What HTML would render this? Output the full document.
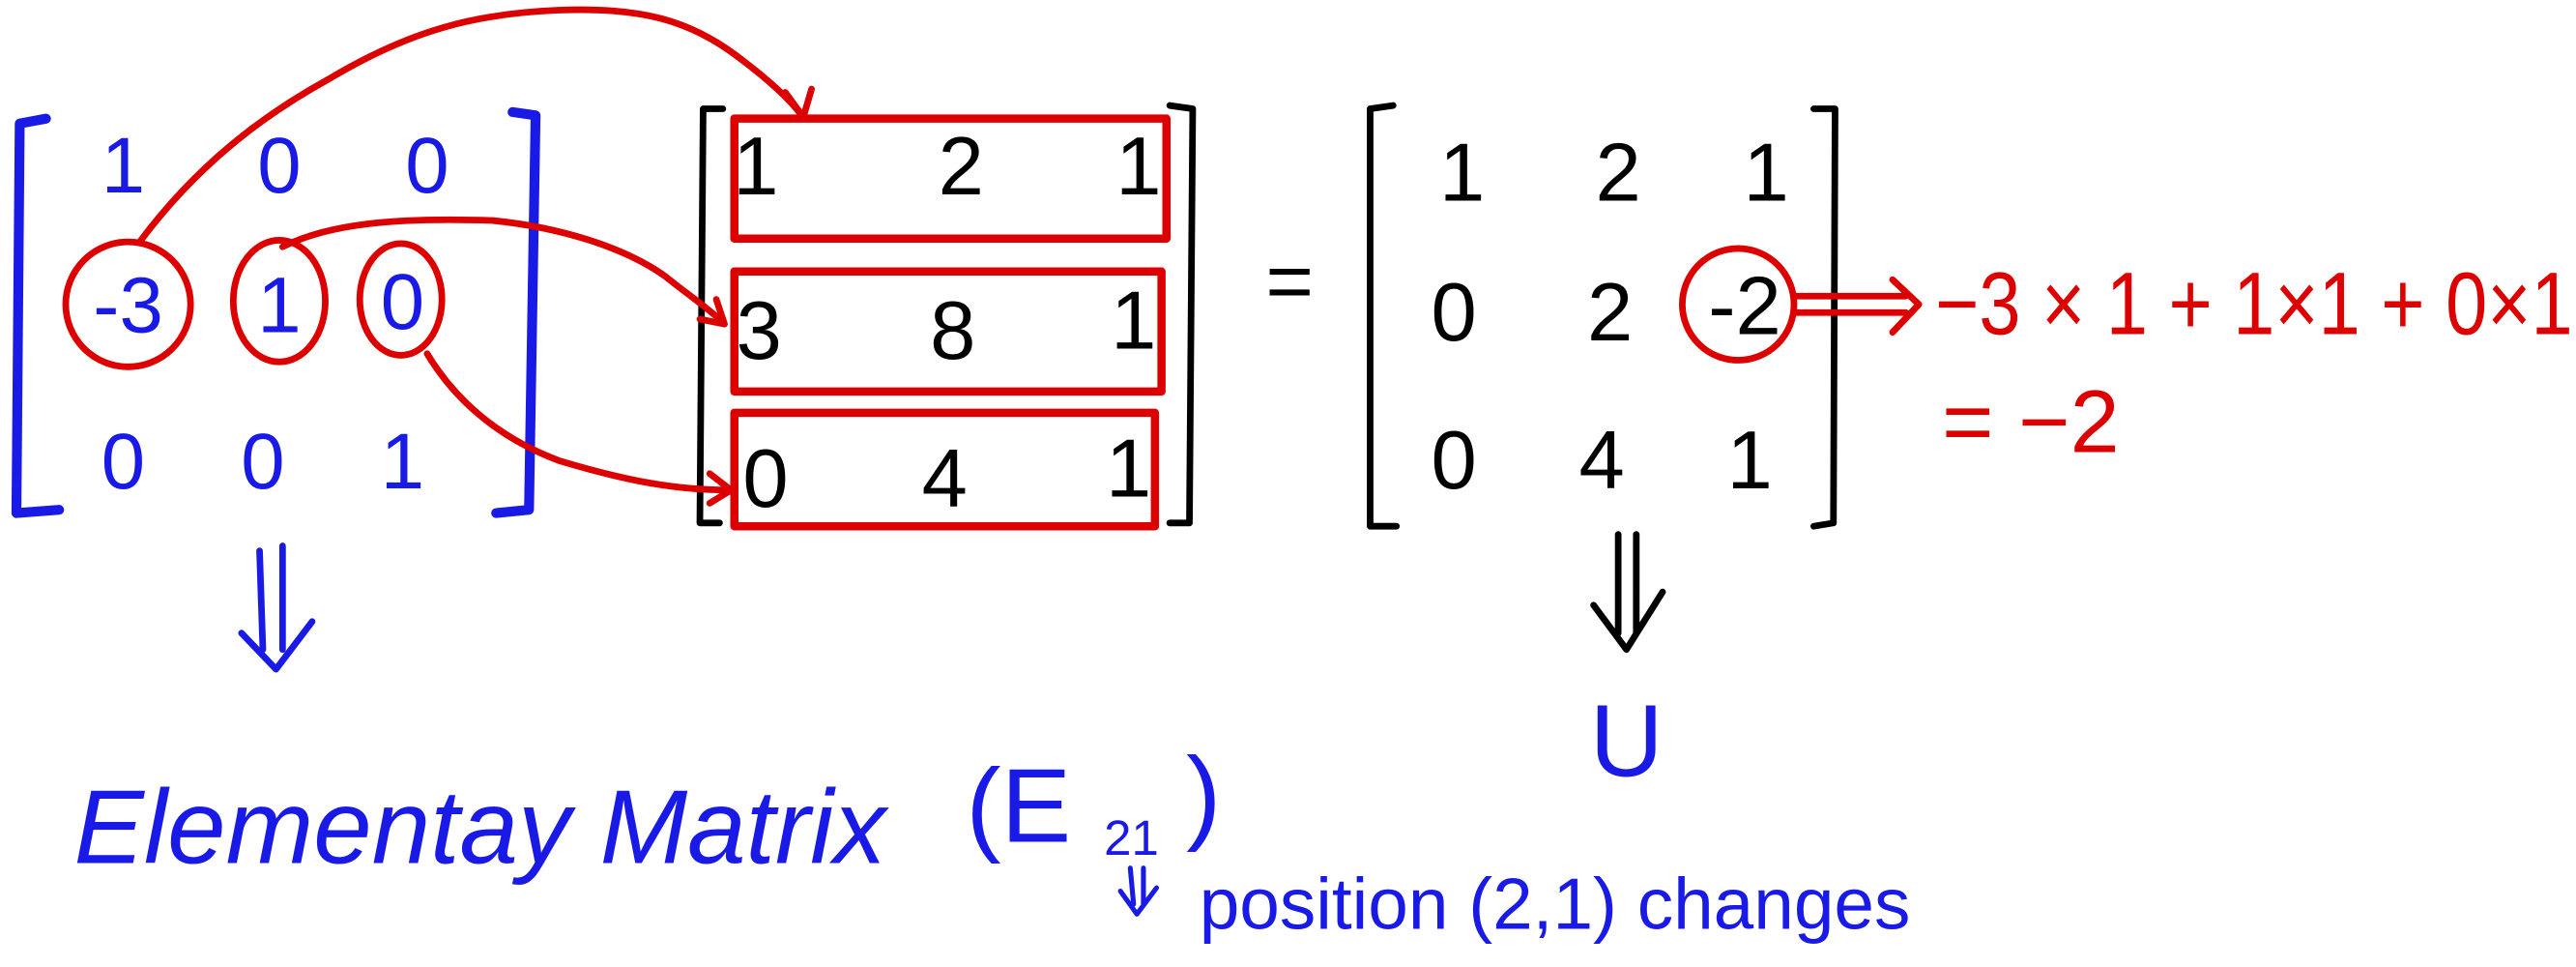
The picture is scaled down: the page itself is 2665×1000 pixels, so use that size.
<!DOCTYPE html>
<html><head><meta charset="utf-8"><style>
html,body{margin:0;padding:0;background:#fff;}
svg{display:block}
text{font-family:"Liberation Sans",sans-serif;}
</style></head><body>
<svg width="2665" height="1000" viewBox="0 0 1568 588" xmlns="http://www.w3.org/2000/svg">
<g fill="none" stroke-linecap="round" stroke-linejoin="round">
<path d="M28 72 L12 75 L10 312 L36 310" stroke="#1a1ae6" stroke-width="6"/>
<path d="M312 68 L326 70 L322 310 L302 312" stroke="#1a1ae6" stroke-width="6"/>
<path d="M440 66 L428 66 L426 318 L438 318" stroke="#000" stroke-width="4"/>
<path d="M712 64 L726 66 L724 318 L712 318" stroke="#000" stroke-width="4"/>
<path d="M848 64 L834 66 L834 320 L850 320" stroke="#000" stroke-width="4"/>
<path d="M1104 66 L1117 66 L1116 318 L1104 320" stroke="#000" stroke-width="4"/>
<rect x="447" y="72" width="263" height="73" stroke="#d00" stroke-width="5"/>
<rect x="447" y="165" width="260" height="73" stroke="#d00" stroke-width="5"/>
<rect x="447" y="251" width="256" height="69" stroke="#d00" stroke-width="5"/>
<circle cx="78" cy="185" r="38" stroke="#d00" stroke-width="4"/>
<ellipse cx="170" cy="183" rx="28" ry="37" stroke="#d00" stroke-width="4"/>
<ellipse cx="244" cy="182" rx="25" ry="34" stroke="#d00" stroke-width="4"/>
<circle cx="1058" cy="185" r="34" stroke="#d00" stroke-width="4"/>
<path d="M85 147 C120 100 160 70 200 48 C250 18 290 8 340 6 C390 4 420 12 450 35 C470 50 482 62 488 70" stroke="#d00" stroke-width="4"/>
<path d="M478 56 L489 71 L494 54" stroke="#d00" stroke-width="4"/>
<path d="M172 150 C200 136 240 132 300 134 C340 138 380 150 405 168 C420 180 432 188 440 196" stroke="#d00" stroke-width="4"/>
<path d="M426 194 L441 197 L436 182" stroke="#d00" stroke-width="4"/>
<path d="M260 215 C275 240 300 265 340 280 C380 292 410 298 444 298" stroke="#d00" stroke-width="4"/>
<path d="M432 288 L445 298 L432 306" stroke="#d00" stroke-width="4"/>
<path d="M1093 180 L1160 180 M1093 190 L1160 190 M1152 170 L1168 185 L1152 202" stroke="#d00" stroke-width="4"/>
<path d="M158 335 L160 395 M172 332 L172 395 M147 385 L168 407 L190 378" stroke="#1a1ae6" stroke-width="4"/>
<path d="M985 325 L985 385 M996 325 L996 385 M970 368 L990 395 L1012 360" stroke="#000" stroke-width="4"/>
<path d="M688 528 L690 550 M696 528 L696 550 M682 542 L692 556 L704 540" stroke="#1a1ae6" stroke-width="3"/>
</g>
<g fill="#1a1ae6" font-size="48" text-anchor="middle">
<text x="75" y="117">1</text><text x="170" y="117">0</text><text x="260" y="117">0</text>
<text x="78" y="202">-3</text><text x="170" y="202">1</text><text x="245" y="200">0</text>
<text x="75" y="297">0</text><text x="160" y="297">0</text><text x="245" y="297">1</text>
</g>
<g fill="#000" font-size="50" text-anchor="middle">
<text x="460" y="118">1</text><text x="585" y="118">2</text><text x="693" y="118">1</text>
<text x="462" y="218">3</text><text x="580" y="218">8</text><text x="690" y="212">1</text>
<text x="466" y="308">0</text><text x="575" y="308">4</text><text x="687" y="302">1</text>
<text x="785" y="188">=</text>
<text x="890" y="122">1</text><text x="985" y="122">2</text><text x="1075" y="122">1</text>
<text x="885" y="207">0</text><text x="980" y="207">2</text><text x="1062" y="203">-2</text>
<text x="885" y="297">0</text><text x="975" y="297">4</text><text x="1065" y="297">1</text>
</g>
<g fill="#d00" font-size="54">
<text x="1178" y="203" textLength="388" lengthAdjust="spacingAndGlyphs">−3 × 1 + 1×1 + 0×1</text>
<text x="1182" y="275">= −2</text>
</g>
<g fill="#1a1ae6">
<text x="990" y="472" font-size="62" text-anchor="middle">U</text>
<text x="45" y="525" font-size="64" font-style="italic">Elementay Matrix</text>
<text x="588" y="512" font-size="64">(E</text>
<text x="672" y="520" font-size="30">21</text>
<text x="722" y="505" font-size="64">)</text>
<text x="730" y="565" font-size="44">position (2,1) changes</text>
</g>
</svg>
</body></html>
